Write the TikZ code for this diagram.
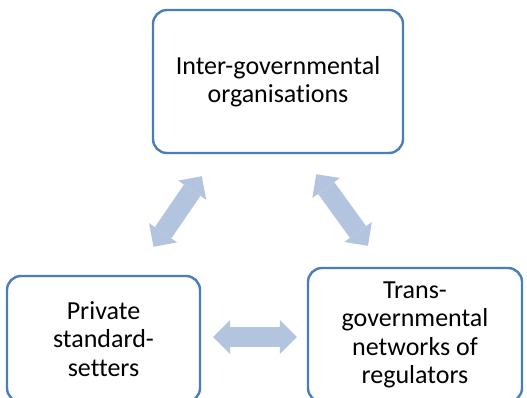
\documentclass[tikz,border=0pt]{standalone}
\usepackage{fontspec}
\setmainfont{Carlito}[Ligatures=NoCommon]
\usetikzlibrary{arrows.meta,positioning}
\definecolor{boxblue}{RGB}{74,126,187}
\definecolor{arrowblue}{RGB}{179,196,222}

\begin{document}
\begin{tikzpicture}[x=1pt, y=-1pt,
  >={Triangle[length=17pt 0 0, width=34pt 0 0, line width=0pt]},
  actor/.style={draw=boxblue, line width=2.4pt, rounded corners=14pt, align=center, inner sep=0pt, font=\fontsize{26}{28.5}\selectfont},
  link/.style={draw=arrowblue, line width=20pt, <->}]
\useasboundingbox (0,0) rectangle (527,397);
\clip (0,0) rectangle (527,397);

\node[actor, minimum width=250pt, minimum height=143pt] (igo) at (278,81.5) {Inter-governmental\\organisations};
\node[actor, minimum width=193pt, minimum height=126pt] (pss) at (103.5,339) {Private\\standard-\\setters};
\node[actor, minimum width=214pt, minimum height=134pt] (tgn) at (415,335) {Trans-\\governmental\\networks of\\regulators};

% double arrows between the three
\draw[link] ([shift={(50,-28)}]pss.north) -- ([shift={(50,22)}]igo.south west);
\draw[link] ([shift={(-88,20)}]igo.south east) -- ([shift={(-47,-21)}]tgn.north);
\draw[link] ([shift={(12,-2)}]pss.east) -- ([shift={(-10,2)}]tgn.west);
\end{tikzpicture}
\end{document}
